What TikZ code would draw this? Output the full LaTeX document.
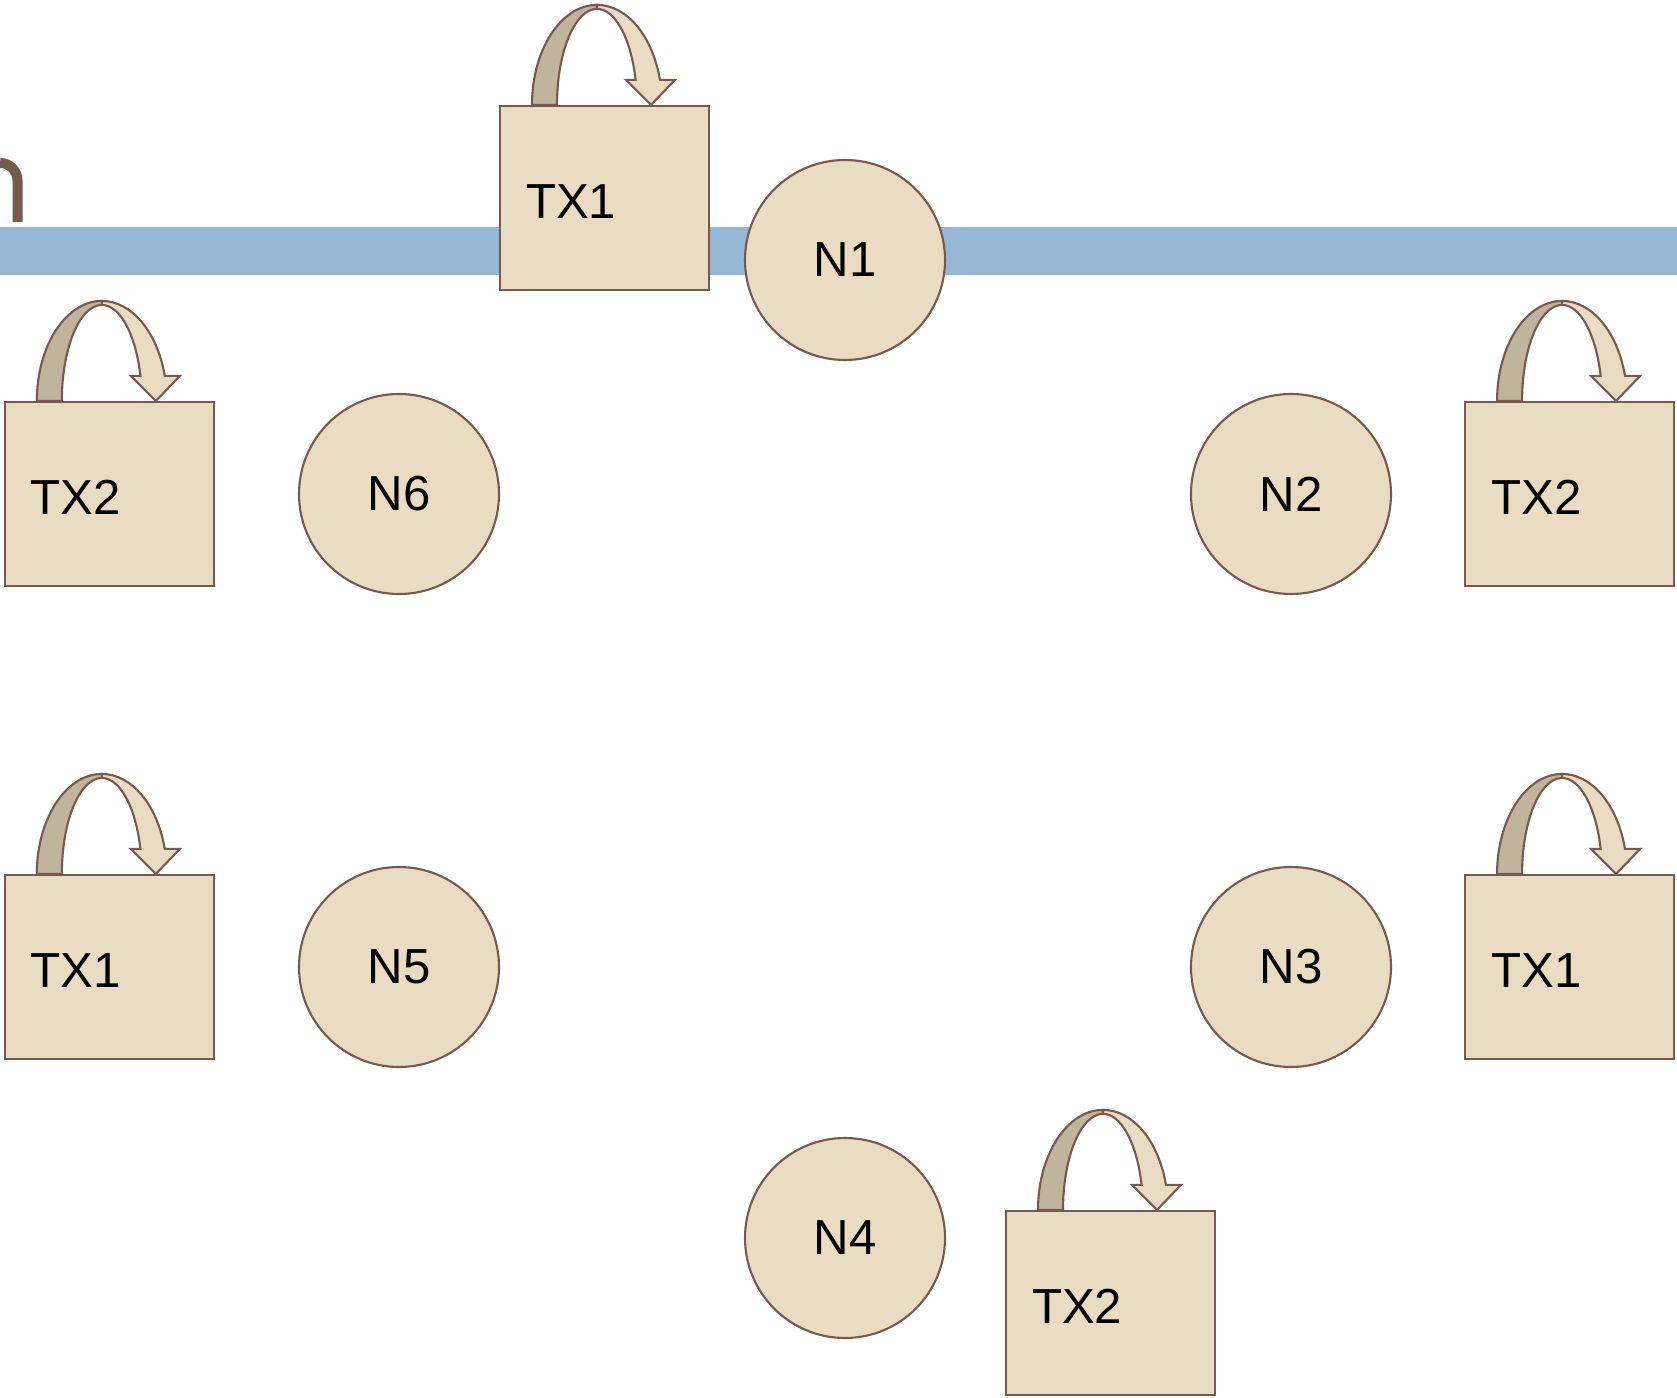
\documentclass[tikz,border=0pt]{standalone}
\usepackage{fontspec}
\setmainfont{Liberation Sans}
\usetikzlibrary{positioning}
\definecolor{peerFill}{HTML}{EADCC2}
\definecolor{peerEdge}{HTML}{76594F}
\definecolor{loopRear}{HTML}{C0B49C}
\definecolor{ringBlue}{HTML}{95B6D4}

\begin{document}
\begin{tikzpicture}[
        txbox/.style={draw=peerEdge, fill=peerFill, line width=0.6pt, minimum height=1.84cm, text width=1.57cm, text height=0.41cm, inner xsep=0.26cm, align=left, font=\fontsize{14}{17}\selectfont},
        peer/.style={circle, draw=peerEdge, fill=peerFill, line width=0.6pt, minimum size=2cm, inner sep=0pt, font=\fontsize{14}{17}\selectfont},
        turnarrow/.pic={
            % rear half of the bent arrow
            \filldraw[fill=loopRear, draw=peerEdge, line width=0.6pt]
                (0.33,0) arc[start angle=180, end angle=90, x radius=0.65, y radius=1.00]
                -- (0.98,0.96) arc[start angle=90, end angle=180, x radius=0.40, y radius=0.96] -- cycle;
            % front half with the head
            \filldraw[fill=peerFill, draw=peerEdge, line width=0.6pt]
                (0.98,1.00) arc[start angle=90, end angle=14.5, x radius=0.65, y radius=1.00]
                -- (1.76,0.25) -- (1.52,0) -- (1.27,0.25) -- (1.366,0.25)
                arc[start angle=15.1, end angle=90, x radius=0.40, y radius=0.96] -- cycle;
        }
    ]
        \useasboundingbox (0,0) rectangle (16.77,-13.98);

        % ring line and the cut-off letter at the left edge
        \fill[ringBlue] (0,-2.27) rectangle (16.77,-2.75);
        \draw[peerEdge, line width=0.10cm] (0,-1.63) arc[start angle=90, end angle=0, radius=0.175] -- (0.175,-2.22);

        \node[peer] (n1) at (8.45,-2.60) {N1};
        \node[peer] (n2) at (12.91,-4.94) {N2};
        \node[peer] (n3) at (12.91,-9.67) {N3};
        \node[peer] (n4) at (8.45,-12.38) {N4};
        \node[peer] (n5) at (3.99,-9.67) {N5};
        \node[peer] (n6) at (3.99,-4.94) {N6};

        \node[txbox, anchor=south west] (tx1n) at (4.99,-2.91) {TX1};
        \node[txbox, right=0.72cm of n2] (tx2e) {TX2};
        \node[txbox, right=0.72cm of n3] (tx1e) {TX1};
        \node[txbox, anchor=south west] (tx2s) at (10.05,-13.96) {TX2};
        \node[txbox, left=0.83cm of n5] (tx1w) {TX1};
        \node[txbox, left=0.83cm of n6] (tx2w) {TX2};

        \foreach \b in {tx1n,tx2e,tx1e,tx2s,tx1w,tx2w}
            \pic at (\b.north west) {turnarrow};
    \end{tikzpicture}
\end{document}
